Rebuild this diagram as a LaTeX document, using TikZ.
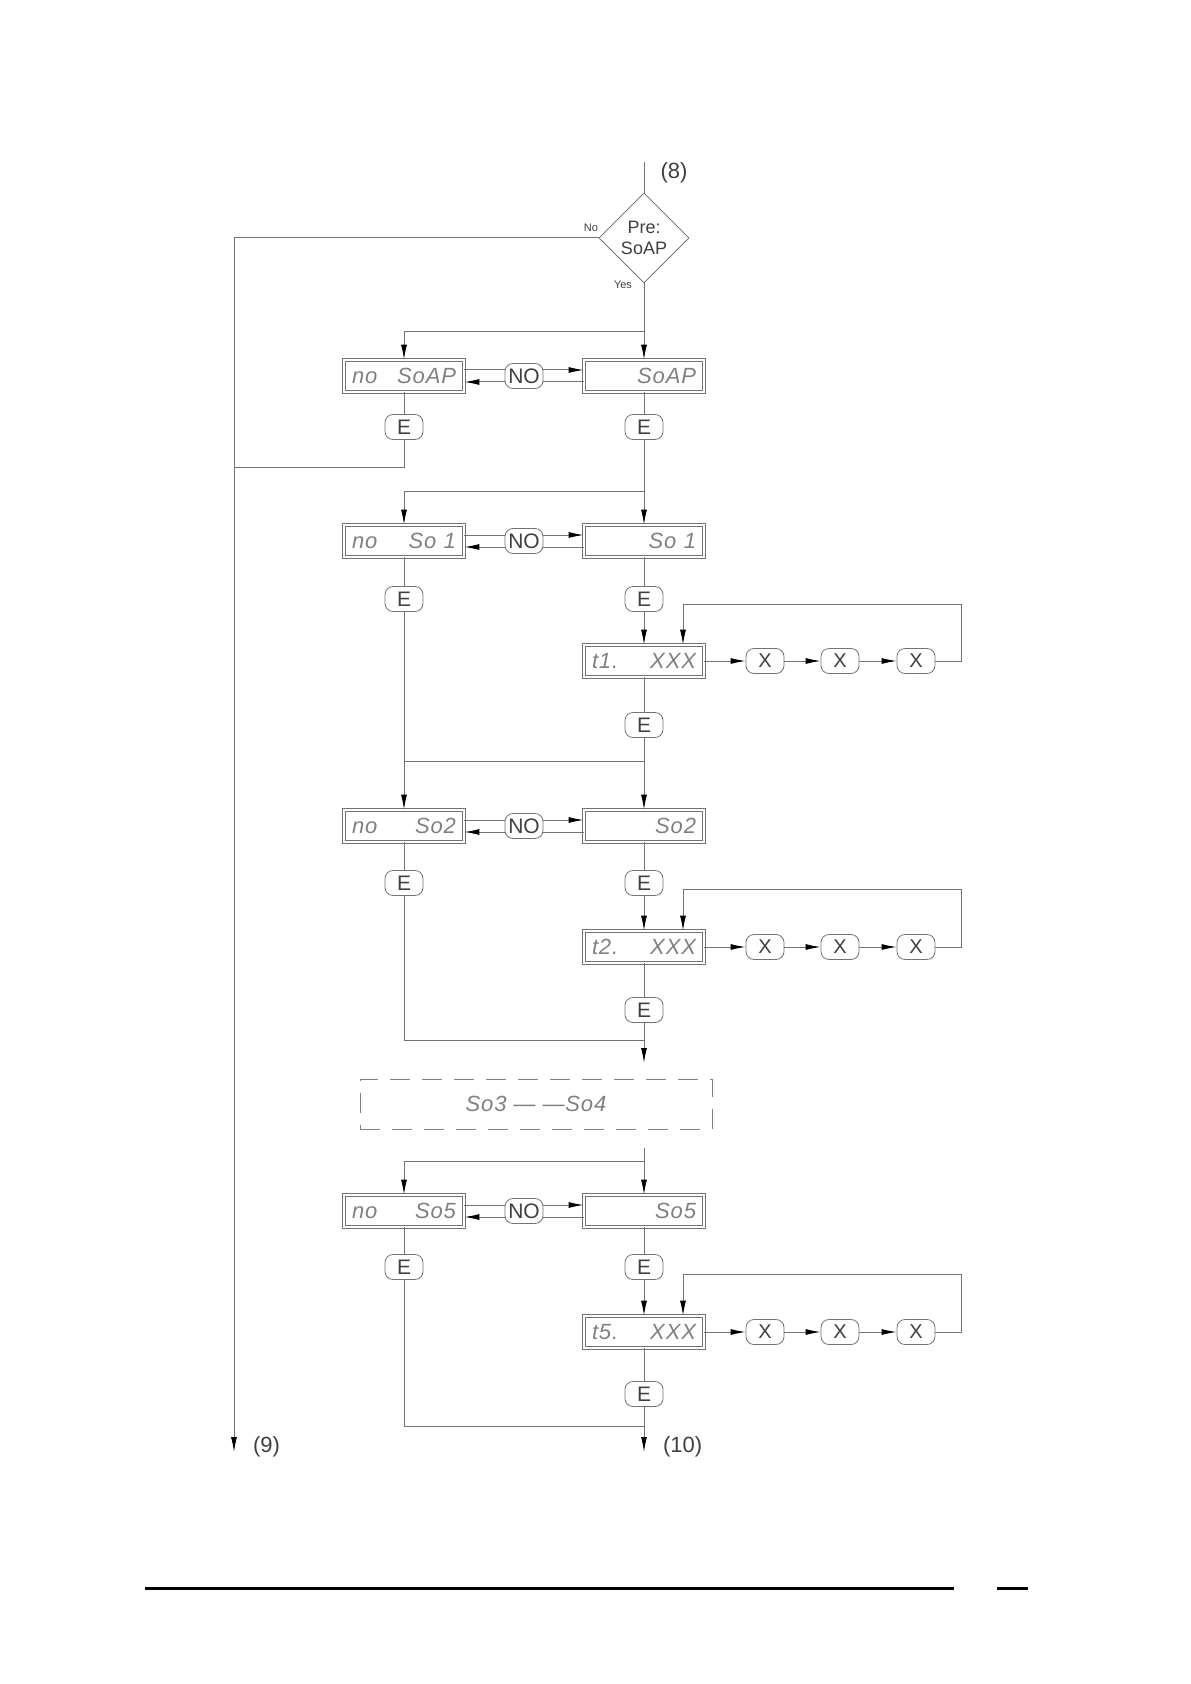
\documentclass[tikz,border=0pt]{standalone}
\usepackage{fontspec}
\setmainfont{Liberation Sans}
\newfontfamily\segfont[LetterSpace=4]{Liberation Sans}
\usetikzlibrary{shapes.geometric,arrows.meta}

\begin{document}
\begin{tikzpicture}[x=0.5pt,y=-0.5pt,
    soDisp/.style={rectangle,draw=black!55,double=white,double distance=1.4pt,line width=0.35pt,minimum width=60pt,minimum height=16pt,text width=52pt,inner sep=4pt,font=\segfont\itshape\fontsize{11}{11}\selectfont,text=black!50},
    soKey/.style={rectangle,rounded corners=4pt,draw=black!55,fill=white,line width=0.4pt,minimum width=19pt,minimum height=12.5pt,inner sep=0pt,font=\fontsize{10.5}{10.5}\selectfont,text=black!75},
    soKeyX/.style={soKey,font=\fontsize{10}{10}\selectfont},
    soDec/.style={diamond,aspect=1,draw=black!60,line width=0.4pt,minimum size=45pt,inner sep=0pt,align=center,font=\fontsize{9}{10.5}\selectfont,text=black!75},
    soDash/.style={rectangle,draw=black!50,line width=0.4pt,dash pattern=on 10pt off 6pt,minimum width=176pt,minimum height=25pt,font=\segfont\itshape\fontsize{11}{11}\selectfont,text=black!50},
    soLine/.style={draw=black!55,line width=0.5pt},
    soArr/.style={soLine,-{Latex[length=7.5pt,width=3pt,color=black]}},
    soLbl/.style={font=\fontsize{11}{11}\selectfont,text=black!75},
    soTiny/.style={font=\fontsize{5.5}{5.5}\selectfont,text=black!75},
]
\useasboundingbox (0,0) rectangle (1190,1684);
% decision
\node[soDec] (dPre) at (644,238) {Pre:\\SoAP};
\coordinate (cIn) at (644,162);
\node[soLbl] (l8) at (674,173) {(8)};
\node[soTiny] (lNo) at (591,228) {No};
\node[soTiny] (lYes) at (623,285) {Yes};
\draw[soLine] (cIn) -- (dPre.north);
\coordinate (cOut9) at (234,1452);
\draw[soArr] (dPre.west) -| (cOut9);
\node[soLbl,anchor=west] (l9) at (246,1447) {(9)};
% row SoAP
\node[soDisp] (d1L) at (404,376) {no\hfill SoAP};
\node[soDisp] (d1R) at (644,376) {\mbox{}\hfill SoAP};
\coordinate (b1) at (644,332);
\draw[soArr] (dPre.south) -- (d1R.north);
\draw[soArr] (b1) -| (d1L.north);
\draw[soArr] ([yshift=3pt]d1L.east) -- ([yshift=3pt]d1R.west);
\draw[soArr] ([yshift=-3pt]d1R.west) -- ([yshift=-3pt]d1L.east);
\node[soKey] (n1) at (524,376) {NO};
\node[soKey] (e1L) at (404,427) {E};
\node[soKey] (e1R) at (644,427) {E};
\draw[soLine] (d1L.south) -- (e1L.north);
\draw[soLine] (d1R.south) -- (e1R.north);
\coordinate (j1) at (234,467);
\draw[soLine] (e1L.south) |- (j1);
% row So1
\node[soDisp] (d2L) at (404,541) {no\hfill So 1};
\node[soDisp] (d2R) at (644,541) {\mbox{}\hfill So 1};
\coordinate (b2) at (644,491);
\draw[soArr] (e1R.south) -- (d2R.north);
\draw[soArr] (b2) -| (d2L.north);
\draw[soArr] ([yshift=3pt]d2L.east) -- ([yshift=3pt]d2R.west);
\draw[soArr] ([yshift=-3pt]d2R.west) -- ([yshift=-3pt]d2L.east);
\node[soKey] (n2) at (524,541) {NO};
\node[soKey] (e2L) at (404,599) {E};
\node[soKey] (e2R) at (644,599) {E};
\draw[soLine] (d2L.south) -- (e2L.north);
\draw[soLine] (d2R.south) -- (e2R.north);
% t1
\node[soDisp] (t1) at (644,661) {t1.\hfill XXX};
\node[soKeyX] (x11) at (765,661) {X};
\node[soKeyX] (x12) at (840,661) {X};
\node[soKeyX] (x13) at (916,661) {X};
\draw[soArr] (e2R.south) -- (t1.north);
\draw[soArr] (t1.east) -- (x11.west);
\draw[soArr] (x11.east) -- (x12.west);
\draw[soArr] (x12.east) -- (x13.west);
\draw[soArr] (x13.east) -| (961,604) -| ([xshift=19.5pt]t1.north);
\node[soKey] (e2T) at (644,725) {E};
\draw[soLine] (t1.south) -- (e2T.north);
% row So2
\node[soDisp] (d3L) at (404,826) {no\hfill So2};
\node[soDisp] (d3R) at (644,826) {\mbox{}\hfill So2};
\coordinate (b3) at (644,761);
\draw[soArr] (e2T.south) -- (d3R.north);
\draw[soArr] (e2L.south) -- (d3L.north);
\draw[soLine] (b3) -- (b3 -| e2L);
\draw[soArr] ([yshift=3pt]d3L.east) -- ([yshift=3pt]d3R.west);
\draw[soArr] ([yshift=-3pt]d3R.west) -- ([yshift=-3pt]d3L.east);
\node[soKey] (n3) at (524,826) {NO};
\node[soKey] (e3L) at (404,883) {E};
\node[soKey] (e3R) at (644,883) {E};
\draw[soLine] (d3L.south) -- (e3L.north);
\draw[soLine] (d3R.south) -- (e3R.north);
% t2
\node[soDisp] (t2) at (644,947) {t2.\hfill XXX};
\node[soKeyX] (x21) at (765,947) {X};
\node[soKeyX] (x22) at (840,947) {X};
\node[soKeyX] (x23) at (916,947) {X};
\draw[soArr] (e3R.south) -- (t2.north);
\draw[soArr] (t2.east) -- (x21.west);
\draw[soArr] (x21.east) -- (x22.west);
\draw[soArr] (x22.east) -- (x23.west);
\draw[soArr] (x23.east) -| (961,889) -| ([xshift=19.5pt]t2.north);
\node[soKey] (e3T) at (644,1010) {E};
\draw[soLine] (t2.south) -- (e3T.north);
\coordinate (j3) at (644,1040);
\coordinate (c3E) at (644,1063);
\draw[soArr] (e3T.south) -- (c3E);
\draw[soLine] (e3L.south) |- (j3);
% So3 -- So4
\node[soDash] (dMid) at (536,1104) {So3 — —So4};
% row So5
\coordinate (c5S) at (644,1148);
\coordinate (b5) at (644,1161);
\node[soDisp] (d5L) at (404,1211) {no\hfill So5};
\node[soDisp] (d5R) at (644,1211) {\mbox{}\hfill So5};
\draw[soArr] (c5S) -- (d5R.north);
\draw[soArr] (b5) -| (d5L.north);
\draw[soArr] ([yshift=3pt]d5L.east) -- ([yshift=3pt]d5R.west);
\draw[soArr] ([yshift=-3pt]d5R.west) -- ([yshift=-3pt]d5L.east);
\node[soKey] (n5) at (524,1211) {NO};
\node[soKey] (e5L) at (404,1267) {E};
\node[soKey] (e5R) at (644,1267) {E};
\draw[soLine] (d5L.south) -- (e5L.north);
\draw[soLine] (d5R.south) -- (e5R.north);
% t5
\node[soDisp] (t5) at (644,1332) {t5.\hfill XXX};
\node[soKeyX] (x51) at (765,1332) {X};
\node[soKeyX] (x52) at (840,1332) {X};
\node[soKeyX] (x53) at (916,1332) {X};
\draw[soArr] (e5R.south) -- (t5.north);
\draw[soArr] (t5.east) -- (x51.west);
\draw[soArr] (x51.east) -- (x52.west);
\draw[soArr] (x52.east) -- (x53.west);
\draw[soArr] (x53.east) -| (961,1274) -| ([xshift=19.5pt]t5.north);
\node[soKey] (e5T) at (644,1394) {E};
\draw[soLine] (t5.south) -- (e5T.north);
\coordinate (j5) at (644,1426);
\coordinate (cOut10) at (644,1452);
\draw[soArr] (e5T.south) -- (cOut10);
\draw[soLine] (e5L.south) |- (j5);
\node[soLbl,anchor=west] (l10) at (656,1447) {(10)};
% page rule
\draw[line width=1.5pt] (145,1588) -- (954,1588);
\draw[line width=1.5pt] (997,1588) -- (1028,1588);
\end{tikzpicture}
\end{document}
